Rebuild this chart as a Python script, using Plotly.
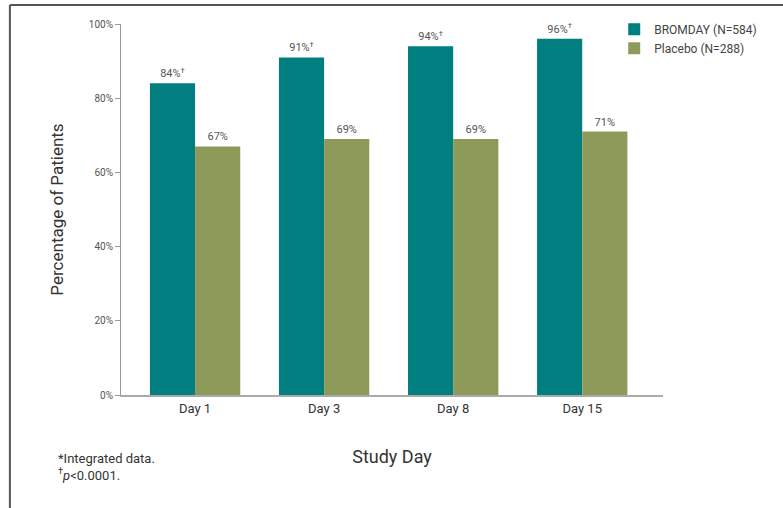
import plotly.graph_objects as go

categories = ["Day 1", "Day 3", "Day 8", "Day 15"]
bromday = [84, 91, 94, 96]
placebo = [67, 69, 69, 71]
bromday_labels = ["84%<sup>†</sup>", "91%<sup>†</sup>", "94%<sup>†</sup>", "96%<sup>†</sup>"]
placebo_labels = ["67%", "69%", "69%", "71%"]
y_ticks = [0, 20, 40, 60, 80, 100]
y_tick_text = ["0%", "20%", "40%", "60%", "80%", "100%"]

FONT = "Liberation Sans Narrow, Arial Narrow, Roboto, sans-serif"
TEAL = "#017f80"
OLIVE = "#8d9a5a"

fig = go.Figure()
fig.add_trace(go.Bar(
    x=categories, y=bromday, name="BROMDAY (N=584)",
    marker=dict(color=TEAL, line=dict(width=0)),
    text=bromday_labels, textposition="outside", cliponaxis=False,
    textfont=dict(family=FONT, size=11, color="#555555"),
))
fig.add_trace(go.Bar(
    x=categories, y=placebo, name="Placebo (N=288)",
    marker=dict(color=OLIVE, line=dict(width=0)),
    text=placebo_labels, textposition="outside", cliponaxis=False,
    textfont=dict(family=FONT, size=11, color="#555555"),
))

fig.update_layout(
    width=783, height=508,
    margin=dict(l=121, r=120, t=24, b=113),
    paper_bgcolor="white", plot_bgcolor="white",
    barmode="group", bargap=0.30, bargroupgap=0,
    font=dict(family=FONT, color="#333333"),
    showlegend=True,
    legend=dict(
        x=0.91, y=1.025, xanchor="left", yanchor="top",
        font=dict(family=FONT, size=12, color="#444444"),
        bgcolor="rgba(0,0,0,0)", itemsizing="constant",
        tracegroupgap=6,
    ),
    xaxis=dict(
        range=[-0.574, 3.626], showgrid=False, zeroline=False,
        showline=True, linecolor="#aaaaaa", linewidth=2,
        ticks="", tickfont=dict(family=FONT, size=13, color="#333333"),
        title=dict(text="Study Day", font=dict(family=FONT, size=18, color="#333333"), standoff=36),
    ),
    yaxis=dict(
        range=[0, 100], tickvals=y_ticks, ticktext=y_tick_text,
        showgrid=False, zeroline=False,
        showline=True, linecolor="#999999", linewidth=1,
        ticks="outside", ticklen=5, tickcolor="#999999", tickwidth=1,
        tickfont=dict(family=FONT, size=10, color="#555555"),
        title=dict(text="Percentage of Patients", font=dict(family=FONT, size=17, color="#333333"), standoff=20),
    ),
    annotations=[
        dict(text="*Integrated data.<br><sup>†</sup><i>p</i>&lt;0.0001.", xref="paper", yref="paper",
             x=-0.12, y=-0.145, xanchor="left", yanchor="top", align="left", showarrow=False,
             font=dict(family=FONT, size=13, color="#333333")),
    ],
    shapes=[
        dict(type="line", xref="paper", yref="paper", x0=-0.205, x1=1.25, y0=1.0512, y1=1.0512,
             line=dict(color="#555555", width=2)),
        dict(type="line", xref="paper", yref="paper", x0=-0.205, x1=-0.205, y0=1.0512, y1=-0.4,
             line=dict(color="#555555", width=2)),
    ],
)

fig.write_html("out.html")
